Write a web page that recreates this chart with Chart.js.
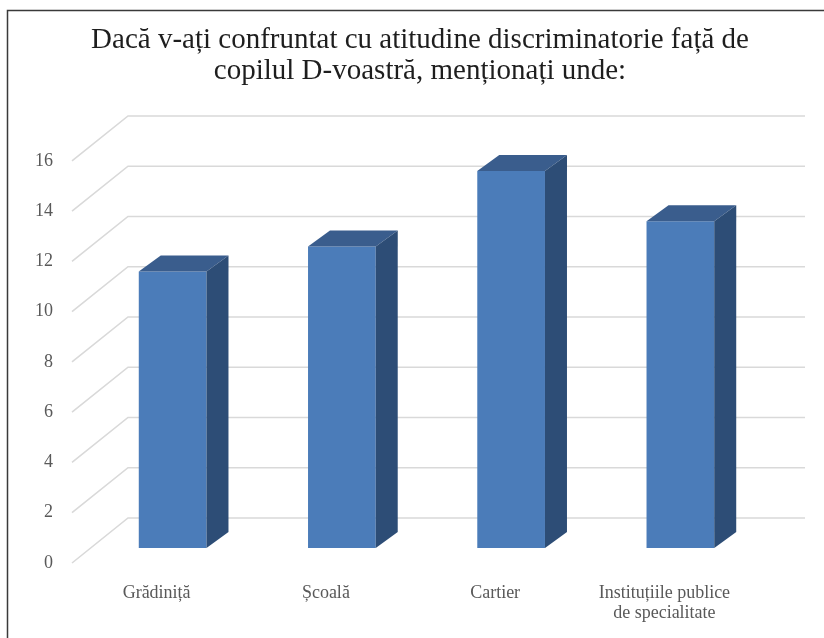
<!DOCTYPE html>
<html>
<head>
<meta charset="utf-8">
<script src="https://cdn.jsdelivr.net/npm/chart.js@4"></script>
<style>
  html, body { margin: 0; padding: 0; background: #ffffff; }
  #wrap { position: relative; width: 824px; height: 638px; }
</style>
</head>
<body>
<div id="wrap"><canvas id="c" width="824" height="638"></canvas></div>
<script>
// Survey answers: where the discriminatory attitude was met
const categories = [['Grădiniță'], ['Școală'], ['Cartier'], ['Instituțiile publice', 'de specialitate']];
const values = [11, 12, 15, 13];
const yTicks = [0, 2, 4, 6, 8, 10, 12, 14, 16];
const titleLines = ['Dacă v-ați confruntat cu atitudine discriminatorie față de', 'copilul D-voastră, menționați unde:'];

const serif = "'Liberation Serif', 'Times New Roman', serif";

// oblique projection offsets for the 3D look
const wallDepth = { dx: 56, dy: -45 };   // front edge -> back wall
const barShift = { dx: 16, dy: -15 };    // front edge -> bar front faces
const barDepth = { dx: 22, dy: -16 };    // bar front face -> bar back face

const colors = { front: '#4b7cb9', top: '#3a5d8d', side: '#2d4d76', grid: '#d9d9d9' };

const box3d = {
  id: 'box3d',
  beforeDraw(chart) {
    const ctx = chart.ctx;
    ctx.save();
    ctx.strokeStyle = '#3a3a3a';
    ctx.lineWidth = 1.5;
    ctx.beginPath();
    ctx.moveTo(7.5, chart.height);
    ctx.lineTo(7.5, 10.5);
    ctx.lineTo(chart.width, 10.5);
    ctx.stroke();
    ctx.restore();
  },
  beforeDatasetsDraw(chart) {
    const ctx = chart.ctx;
    const area = chart.chartArea;
    const y = chart.scales.y;
    ctx.save();
    ctx.strokeStyle = colors.grid;
    ctx.lineWidth = 1.6;
    yTicks.forEach(v => {
      const py = y.getPixelForValue(v);
      ctx.beginPath();
      ctx.moveTo(area.left, py);
      ctx.lineTo(area.left + wallDepth.dx, py + wallDepth.dy);
      ctx.lineTo(area.right + wallDepth.dx, py + wallDepth.dy);
      ctx.stroke();
    });
    ctx.restore();
    // bars sit part-way into the depth of the plot
    ctx.save();
    ctx.translate(barShift.dx, barShift.dy);
  },
  afterDatasetsDraw(chart) {
    const ctx = chart.ctx;
    const meta = chart.getDatasetMeta(0);
    meta.data.forEach(bar => {
      const p = bar.getProps(['x', 'y', 'base', 'width'], true);
      const l = p.x - p.width / 2, r = p.x + p.width / 2;
      const dx = barDepth.dx, dy = barDepth.dy;
      ctx.fillStyle = colors.top;
      ctx.beginPath();
      ctx.moveTo(l, p.y);
      ctx.lineTo(l + dx, p.y + dy);
      ctx.lineTo(r + dx, p.y + dy);
      ctx.lineTo(r, p.y);
      ctx.closePath();
      ctx.fill();
      ctx.fillStyle = colors.side;
      ctx.beginPath();
      ctx.moveTo(r, p.y);
      ctx.lineTo(r + dx, p.y + dy);
      ctx.lineTo(r + dx, p.base + dy);
      ctx.lineTo(r, p.base);
      ctx.closePath();
      ctx.fill();
    });
    ctx.restore();
  }
};

new Chart(document.getElementById('c'), {
  type: 'bar',
  data: {
    labels: categories,
    datasets: [{
      data: values,
      backgroundColor: colors.front,
      borderWidth: 0,
      barPercentage: 0.4,
      categoryPercentage: 1.0,
      clip: false,
      yAxisID: 'y'
    }]
  },
  options: {
    responsive: false,
    animation: false,
    layout: { padding: { left: 16, right: 0, top: 0, bottom: 0 } },
    plugins: {
      legend: { display: false },
      tooltip: { enabled: false },
      title: {
        display: true,
        text: titleLines,
        color: '#1e1e1e',
        font: { family: serif, size: 29, weight: 'normal', lineHeight: 1.07 },
        padding: { top: 25, bottom: 73.9 }
      }
    },
    scales: {
      x: {
        grid: { display: false, drawTicks: false },
        border: { display: false },
        ticks: {
          color: '#595959',
          font: { family: serif, size: 18, lineHeight: 1.08 },
          padding: 21,
          maxRotation: 0,
          autoSkip: false
        },
        afterFit(scale) { scale.height = 75; }
      },
      y: {
        position: 'left',
        min: 0,
        max: 16,
        grid: { display: false, drawTicks: false },
        border: { display: false },
        ticks: {
          stepSize: 2,
          color: '#595959',
          font: { family: serif, size: 18 },
          padding: 19
        },
        afterFit(scale) { scale.width = 56; }
      },
      // empty right-hand gutter that leaves room for the back wall
      gutter: {
        position: 'right',
        min: 0,
        max: 16,
        grid: { display: false, drawTicks: false },
        border: { display: false },
        ticks: { display: false },
        afterFit(scale) { scale.width = 75; }
      }
    }
  },
  plugins: [box3d]
});
</script>
</body>
</html>
